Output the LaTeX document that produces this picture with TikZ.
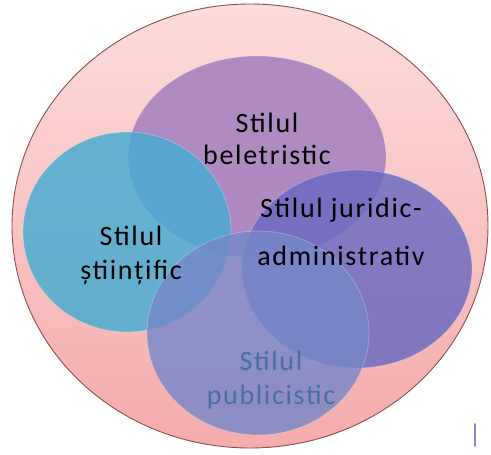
\documentclass[tikz,border=0pt]{standalone}
\usepackage{fontspec}
\setmainfont{Carlito}[LetterSpace=6]
\usetikzlibrary{shadings}
\definecolor{pinktop}{HTML}{FDDCDC}
\definecolor{pinkbot}{HTML}{F5ABAB}
\definecolor{pinkline}{HTML}{8A5050}
\definecolor{purplec}{HTML}{9E7CBE}
\definecolor{cyanc}{HTML}{44ACD2}
\definecolor{juric}{HTML}{6A6AC2}
\definecolor{pubc}{HTML}{7688C8}
\definecolor{pubtext}{HTML}{4A6EA6}
\tikzset{
  venn/.style={opacity=0.82, draw=white, draw opacity=0.25, line width=0.8pt},
  lbl/.style={font=\fontsize{28}{34}\selectfont, align=center, text=black, inner sep=0pt},
}
\begin{document}
\begin{tikzpicture}[x=1pt,y=-1pt]
\useasboundingbox (0,0) rectangle (491,455);
% outer circle
\shade[top color=pinktop, bottom color=pinkbot] (250,226) ellipse [x radius=238, y radius=222];
\draw[pinkline, line width=0.9pt] (250,226) ellipse [x radius=238, y radius=222];
% inner circles
\fill[purplec, venn] (257,157) ellipse [x radius=129, y radius=101];
\fill[cyanc, venn] (127,232) ellipse [x radius=104, y radius=100];
\fill[juric, venn] (357,269) ellipse [x radius=115, y radius=99];
\fill[pubc, venn] (258,333) ellipse [x radius=111, y radius=102];
% labels
\node[lbl] (bel) at (267,139) {Stilul\\[-2pt]beletristic};
\node[lbl] (jur) at (341,232) {Stilul juridic-\\[14pt]administrativ};
\node[lbl] (sti) at (131,255) {Stilul\\[0pt]științific};
\node[lbl, text=pubtext] (pub) at (271,380) {Stilul\\[0pt]publicistic};
% small mark
\draw[juric!80, line width=2pt, line cap=round] (475,424) -- (475,446);
\end{tikzpicture}
\end{document}
